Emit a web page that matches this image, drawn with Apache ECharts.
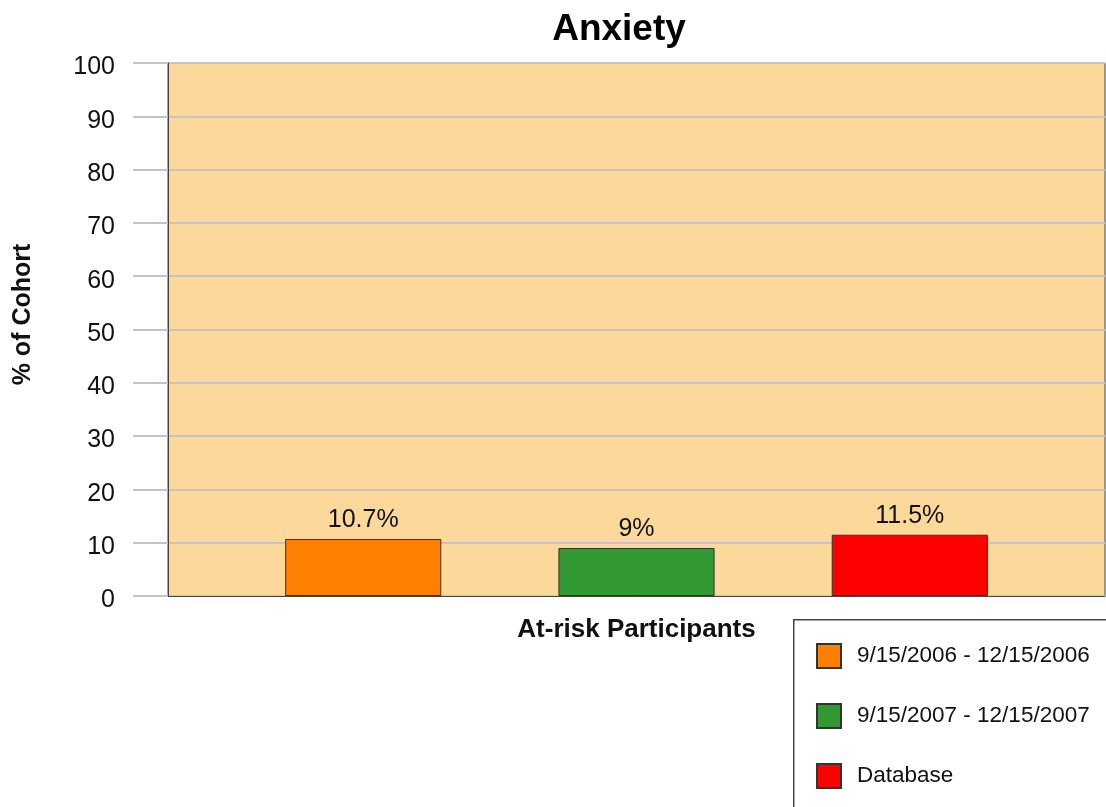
<!DOCTYPE html>
<html>
<head>
<meta charset="utf-8">
<script src="https://cdn.jsdelivr.net/npm/echarts@6/dist/echarts.min.js"></script>
<style>html,body{margin:0;padding:0;background:#fff}#c{width:1106px;height:807px}</style>
</head>
<body>
<div id="c"></div>
<script>
const categories = ['At-risk Participants'];
const seriesNames = ['9/15/2006 - 12/15/2006', '9/15/2007 - 12/15/2007', 'Database'];
const seriesValues = [[10.7], [9], [11.5]];
const seriesColors = ['#ff8000', '#339933', '#ff0000'];
const yTicks = { min: 0, max: 100, interval: 10 };

const chart = echarts.init(document.getElementById('c'));
const font = 'Liberation Sans, Arial, sans-serif';
chart.setOption({
  animation: false,
  textStyle: { fontFamily: font },
  title: {
    text: 'Anxiety', left: 614, top: 6, textAlign: 'center',
    textStyle: { fontSize: 37, fontWeight: 'bold', color: '#000', fontFamily: font }
  },
  graphic: [{
    type: 'rect', left: 793, top: 619, z: 0,
    shape: { width: 340, height: 300 },
    style: { fill: '#fff', stroke: '#444', lineWidth: 1.5 }
  }],
  grid: {
    left: 168, top: 63, right: 1, bottom: 211,
    show: true, backgroundColor: '#fcd99b', borderColor: '#444', borderWidth: 1
  },
  legend: {
    orient: 'vertical', left: 793, top: 620, z: 5,
    padding: [23, 10, 10, 23],
    itemWidth: 24, itemHeight: 24, itemGap: 34,
    icon: 'rect',
    textStyle: { fontSize: 22.5, color: '#111', fontFamily: font, padding: [0, 0, 0, 11] },
    data: seriesNames
  },
  xAxis: {
    type: 'category', data: categories,
    axisLine: { show: true, lineStyle: { color: '#444', width: 1 } },
    axisTick: { show: false },
    axisLabel: { fontSize: 26, fontWeight: 'bold', color: '#111', margin: 21, fontFamily: font }
  },
  yAxis: {
    type: 'value', min: yTicks.min, max: yTicks.max, interval: yTicks.interval,
    name: '% of Cohort', nameLocation: 'middle', nameGap: 132,
    nameTextStyle: { fontSize: 25, fontWeight: 'bold', color: '#111', fontFamily: font, padding: [0, 0, 0, 30] },
    axisLine: { show: true, lineStyle: { color: '#444', width: 1 } },
    axisTick: { show: true, length: 35, lineStyle: { color: '#c4c4c4', width: 2 } },
    axisLabel: { fontSize: 25, color: '#111', margin: 53, fontFamily: font, verticalAlign: 'top', lineHeight: 9 },
    splitLine: { show: true, lineStyle: { color: '#c4c4c4', width: 2 } }
  },
  series: seriesNames.map((n, i) => ({
    name: n, type: 'bar', data: seriesValues[i],
    barCategoryGap: '25%', barGap: '75%',
    itemStyle: { color: seriesColors[i], borderColor: '#333', borderWidth: 1 },
    label: {
      show: true, position: 'top', distance: 6, fontSize: 25, color: '#111', fontFamily: font,
      formatter: p => p.value + '%'
    }
  }))
});
</script>
</body>
</html>
